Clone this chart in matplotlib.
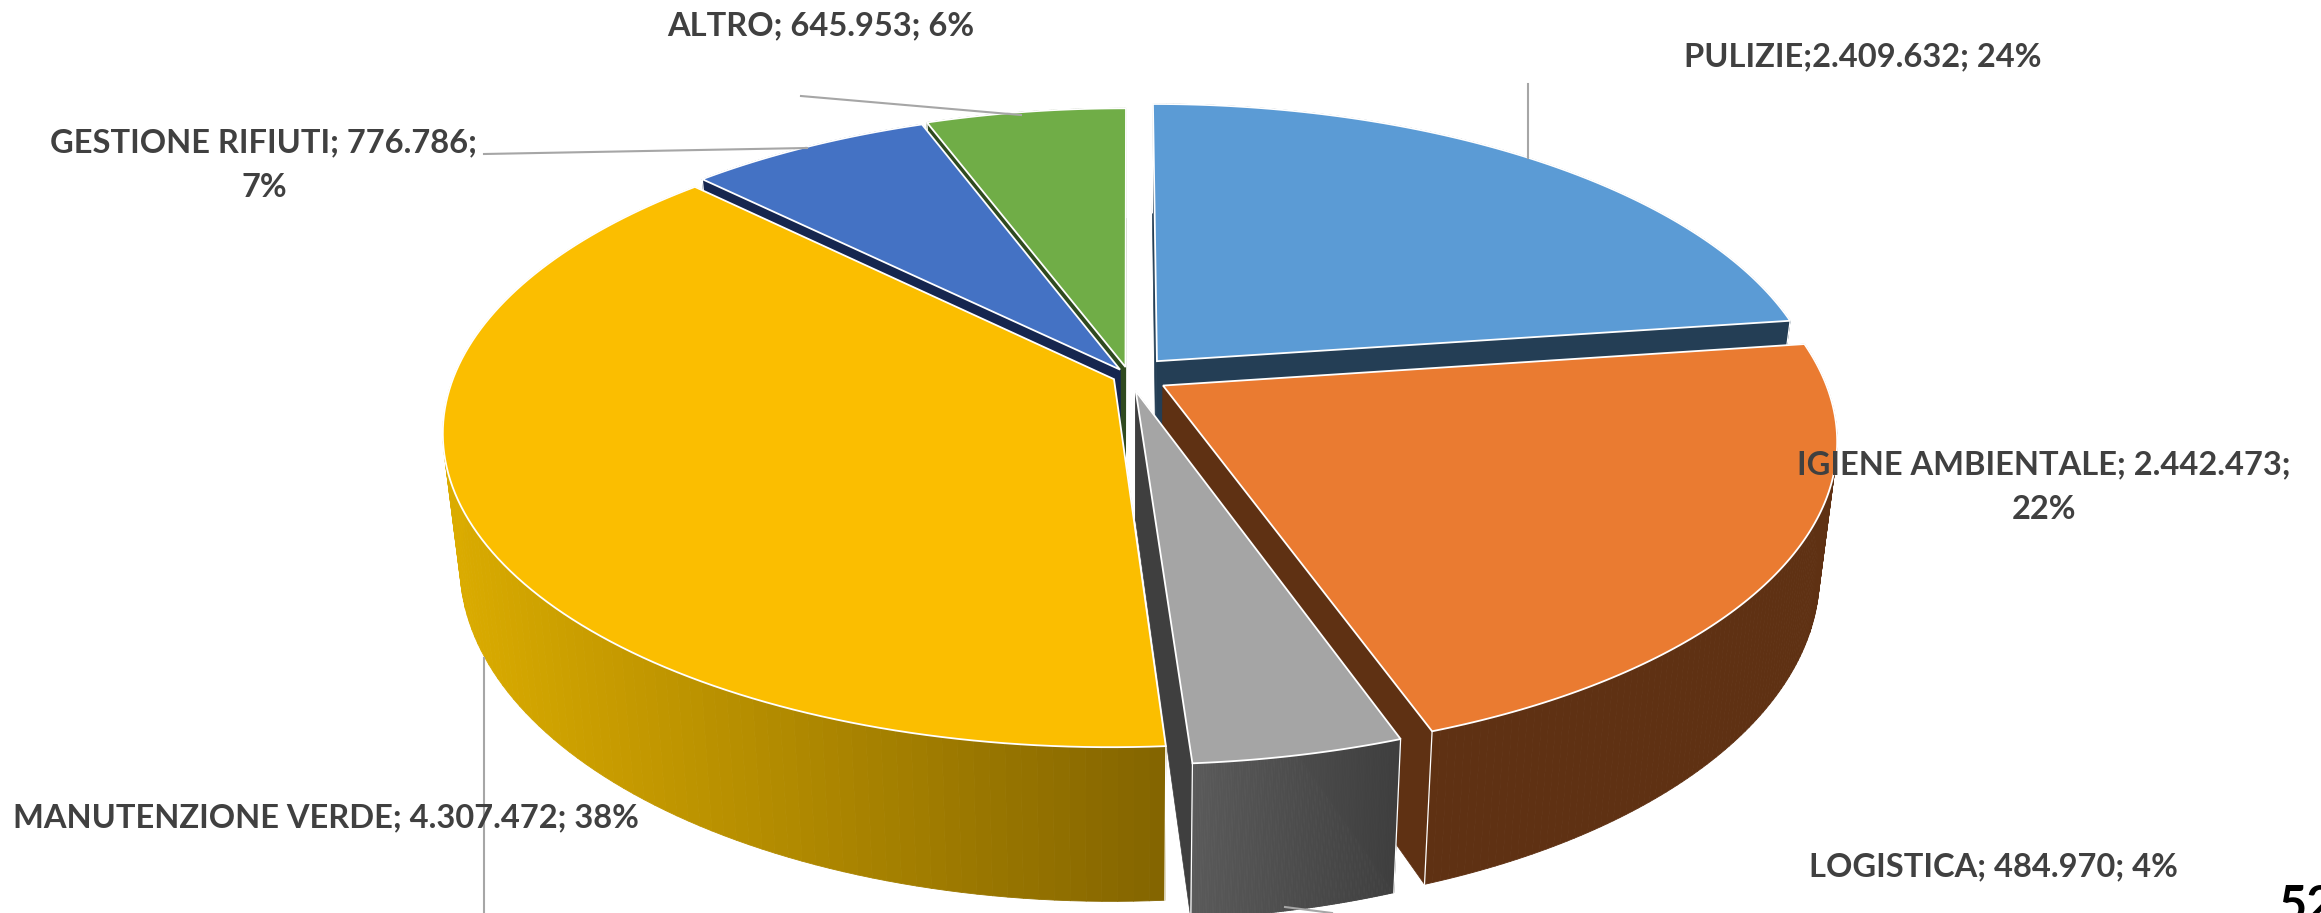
import numpy as np
from matplotlib import pyplot as plt
from matplotlib.collections import PolyCollection
from matplotlib.colors import to_rgb

# slice order is clockwise from 12 o'clock
categories = ['PULIZIE', 'IGIENE AMBIENTALE', 'LOGISTICA', 'MANUTENZIONE VERDE', 'GESTIONE RIFIUTI', 'ALTRO']
values = [2409632, 2442473, 484970, 4307472, 776786, 645953]
percent_labels = [24, 22, 4, 38, 7, 6]
# share of the pie as actually drawn (not the same as the labels)
drawn_share = [22.8, 21.8, 4.3, 38.5, 6.9, 5.7]
explode = [0.065, 0.06, 0.05, 0.025, 0.025, 0.03]

top_colors = ['#5B9BD5', '#EA7B31', '#A5A5A5', '#FBBE00', '#4472C4', '#70AD47']
wall_left = ['#243E55', '#5F3113', '#5A5A5A', '#DBAC00', '#16264F', '#2F4A1F']
wall_right = ['#243E55', '#5F3113', '#3F3F3F', '#846500', '#16264F', '#2F4A1F']
cut_colors = ['#243E55', '#5F3113', '#3F3F3F', '#846500', '#16264F', '#2F4A1F']

# painter's order, back to front
draw_order = [0, 5, 4, 1, 2, 3]

# projection in pixels
CX, CY = 1129.0, 376.0
RX, RY = 660.0, 305.0
PERSP = 0.168
DEPTH = 128.0
CONVERGE = 0.975

TEXT_COLOR = '#404040'
LEADER_COLOR = '#A6A6A6'


def project(x, y):
    p = 1 / (1 + PERSP * y)
    return CX + RX * x * p, CY - RY * y * p, p


def lower(sx, sy, p):
    return CX + CONVERGE * (sx - CX), sy + DEPTH * p


def fmt(value):
    return f'{value:,}'.replace(',', '.')


def make_labels():
    labels = [f'{c}; {fmt(v)}; {p}%' for c, v, p in zip(categories, values, percent_labels)]
    labels[0] = labels[0].replace('; ', ';', 1)
    labels[1] = labels[1].replace(f'; {percent_labels[1]}%', f';\n{percent_labels[1]}%')
    labels[4] = labels[4].replace(f'; {percent_labels[4]}%', f';\n{percent_labels[4]}%')
    return labels


def draw_slice(ax, i, start, end, z):
    mid = np.radians((start + end) / 2)
    ox, oy = explode[i] * np.sin(mid), explode[i] * np.cos(mid)

    t = np.radians(np.linspace(start, end, 120))
    sx, sy, p = project(ox + np.sin(t), oy + np.cos(t))
    bx, by = lower(sx, sy, p)

    ax0, ay0, ap = project(ox, oy)
    abx, aby = lower(ax0, ay0, ap)

    # the two cut faces
    for k in (0, -1):
        ax.fill([ax0, sx[k], bx[k], abx], [ay0, sy[k], by[k], aby],
                color=cut_colors[i], lw=0.5, zorder=z)

    # outer wall, strips shaded from left to right
    left = np.array(to_rgb(wall_left[i]))
    right = np.array(to_rgb(wall_right[i]))
    frac = (sx - sx.min()) / max(sx.max() - sx.min(), 1)
    quads = []
    colors = []
    for k in range(len(t) - 1):
        quads.append([(sx[k], sy[k]), (sx[k + 1], sy[k + 1]), (bx[k + 1], by[k + 1]), (bx[k], by[k])])
        colors.append(left + (right - left) * frac[k])
    ax.add_collection(PolyCollection(quads, facecolors=colors, edgecolors=colors, linewidths=0.6, zorder=z))

    for k in (0, -1):
        ax.plot([sx[k], bx[k]], [sy[k], by[k]], color='white', lw=0.9, zorder=z)

    # top face
    ax.fill(np.r_[ax0, sx], np.r_[ay0, sy], facecolor=top_colors[i], edgecolor='white',
            lw=1.3, joinstyle='miter', zorder=z + 0.5)


def main():
    fig = plt.figure(figsize=(23.21, 9.13), dpi=100)
    ax = fig.add_axes([0, 0, 1, 1])
    ax.set_xlim(0, 2321)
    ax.set_ylim(913, 0)
    ax.axis('off')

    edges = np.r_[0, np.cumsum(drawn_share)] * 3.6
    for z, i in enumerate(draw_order):
        draw_slice(ax, i, edges[i], edges[i + 1], z + 1)

    # leader lines
    leaders = [
        ((1528, 1528), (84, 158)),
        ((801, 1021), (96, 115)),
        ((484, 807), (154, 148)),
        ((484, 484), (658, 913)),
        ((1285, 1332), (907, 913)),
    ]
    for xs, ys in leaders:
        ax.plot(xs, ys, color=LEADER_COLOR, lw=1.5, zorder=10)

    labels = make_labels()
    positions = [(1863, 57), (2044, 487), (1993, 867), (326, 818), (264, 165), (821, 26)]
    for label, (x, y) in zip(labels, positions):
        ax.text(x, y, label, ha='center', va='center', family='Lato', weight='bold',
                fontsize=23.5, color=TEXT_COLOR, linespacing=1.65, zorder=11)

    # page number, cut by the edge of the picture
    ax.text(2279, 884, '52', ha='left', va='top', family='Lato', weight='bold',
            fontsize=35, color='black', zorder=11)

    fig.savefig('out.png', dpi=100, facecolor='white')


if __name__ == '__main__':
    main()
